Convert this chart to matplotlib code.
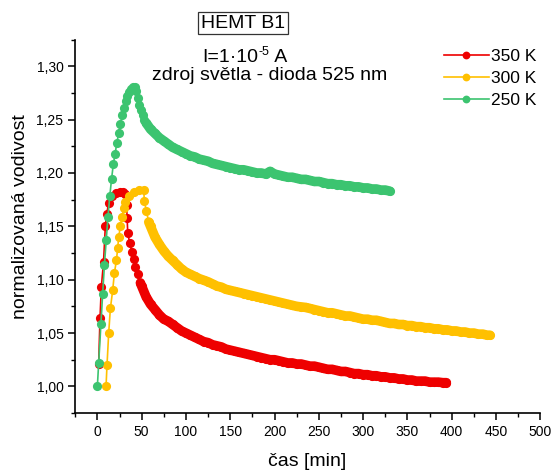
import matplotlib
matplotlib.use("Agg")
import matplotlib.pyplot as plt
import matplotlib.ticker as ticker

plt.rcParams['font.family'] = ['Liberation Sans', 'DejaVu Sans']

# 350 K
t_350_rise = [1.5, 3, 4.5, 7, 9, 10.5, 13, 17, 21, 25, 29, 31, 33, 33.6, 34.3, 36.5, 39, 41, 43,
              45.5, 48.6]
g_350_rise = [1.021, 1.064, 1.093, 1.117, 1.150, 1.162, 1.172, 1.178, 1.181, 1.182, 1.182, 1.180,
              1.170, 1.158, 1.144, 1.134, 1.126, 1.119, 1.112, 1.105, 1.097]
t_350_decay = list(range(50, 395, 5)) + [394]
g_350_decay = [1.094, 1.084, 1.077, 1.072, 1.067, 1.063, 1.061, 1.058, 1.055, 1.052, 1.050, 1.048,
               1.046, 1.044, 1.042, 1.041, 1.039, 1.038, 1.037, 1.035, 1.034, 1.033, 1.032, 1.031,
               1.030, 1.029, 1.028, 1.027, 1.026, 1.025, 1.025, 1.024, 1.023, 1.022, 1.022, 1.021,
               1.021, 1.020, 1.019, 1.019, 1.018, 1.017, 1.016, 1.016, 1.015, 1.014, 1.014, 1.013,
               1.012, 1.012, 1.011, 1.011, 1.010, 1.010, 1.009, 1.009, 1.008, 1.008, 1.007, 1.007,
               1.006, 1.006, 1.005, 1.005, 1.005, 1.004, 1.004, 1.004, 1.0035, 1.0035]

# 300 K
t_300_rise = [9.8, 10.9, 12.8, 14.7, 17.3, 19.2, 21.5, 23, 24.1, 26, 27.9, 29.8, 31.7, 35.4, 41,
              46.7, 52.4, 53, 55.4, 58]
g_300_rise = [1.000, 1.020, 1.050, 1.073, 1.090, 1.106, 1.118, 1.130, 1.140, 1.150, 1.159, 1.167,
              1.173, 1.178, 1.182, 1.184, 1.184, 1.174, 1.164, 1.154]
t_300_decay = list(range(60, 445, 5)) + [443]
g_300_decay = [1.150, 1.140, 1.133, 1.127, 1.122, 1.118, 1.114, 1.110, 1.107, 1.105, 1.103, 1.101,
               1.0995, 1.098, 1.096, 1.094, 1.093, 1.091, 1.090, 1.089, 1.088, 1.087, 1.086, 1.085,
               1.084, 1.083, 1.082, 1.081, 1.080, 1.079, 1.078, 1.077, 1.076, 1.075, 1.0745, 1.074,
               1.073, 1.072, 1.071, 1.070, 1.069, 1.069, 1.068, 1.067, 1.066, 1.066, 1.065, 1.064,
               1.063, 1.063, 1.062, 1.062, 1.061, 1.060, 1.059, 1.059, 1.058, 1.058, 1.057, 1.057,
               1.056, 1.056, 1.055, 1.055, 1.054, 1.054, 1.053, 1.053, 1.052, 1.052, 1.051, 1.051,
               1.050, 1.050, 1.049, 1.049, 1.048, 1.048]

# 250 K
t_250_rise = [0, 1.5, 4, 6, 8, 10, 12, 14, 16, 18, 20, 22, 24, 26, 28, 30, 32, 34, 36, 38, 40, 42,
              44, 45.5, 47, 49, 51, 53, 55]
g_250_rise = [1.000, 1.022, 1.058, 1.087, 1.114, 1.137, 1.159, 1.178, 1.194, 1.208, 1.218, 1.228,
              1.237, 1.246, 1.254, 1.261, 1.267, 1.272, 1.276, 1.279, 1.281, 1.281, 1.277, 1.270,
              1.264, 1.259, 1.254, 1.250, 1.247]
t_250_decay = list(range(60, 335, 5))
g_250_decay = [1.241, 1.237, 1.233, 1.230, 1.227, 1.224, 1.222, 1.220, 1.218, 1.216, 1.215, 1.213,
               1.212, 1.211, 1.209, 1.208, 1.207, 1.206, 1.205, 1.204, 1.203, 1.203, 1.202, 1.201,
               1.200, 1.200, 1.199, 1.2015, 1.199, 1.198, 1.197, 1.196, 1.196, 1.195, 1.194, 1.194,
               1.193, 1.192, 1.192, 1.191, 1.190, 1.190, 1.189, 1.189, 1.188, 1.188, 1.187, 1.187,
               1.186, 1.186, 1.185, 1.185, 1.184, 1.184, 1.183]

labels = ['350 K', '300 K', '250 K']
colors = ['#EE0000', '#FFC000', '#3CC470']

series = [(t_350_rise, g_350_rise, t_350_decay, g_350_decay),
          (t_300_rise, g_300_rise, t_300_decay, g_300_decay),
          (t_250_rise, g_250_rise, t_250_decay, g_250_decay)]

fig = plt.figure(figsize=(5.53, 4.71), dpi=100)
ax = fig.add_axes([0.136, 0.123, 0.841, 0.793])

ms = 6.6
for (tr, gr, td, gd), lab, c in zip(series, labels, colors):
    ax.plot(tr + td, gr + gd, '-o', color=c, lw=1.2, ms=ms, mew=0, label=lab)
    # dense part of the record: measured points overlap into a band
    ax.plot(tr[-1:] + td, gr[-1:] + gd, '-', color=c, lw=ms + 0.3, solid_capstyle='round',
            solid_joinstyle='round')

ax.set_xlim(-25, 500)
ax.set_ylim(0.975, 1.325)
ax.xaxis.set_major_locator(ticker.MultipleLocator(50))
ax.xaxis.set_minor_locator(ticker.MultipleLocator(25))
ax.yaxis.set_major_locator(ticker.MultipleLocator(0.05))
ax.yaxis.set_minor_locator(ticker.MultipleLocator(0.025))
ax.yaxis.set_major_formatter(ticker.FuncFormatter(lambda v, p: '{:.2f}'.format(v).replace('.', ',')))

for s in ['top', 'right']:
    ax.spines[s].set_visible(False)
for s in ['left', 'bottom']:
    ax.spines[s].set_linewidth(1.2)
ax.tick_params(which='major', direction='out', length=5, width=1.1, labelsize=10)
ax.tick_params(which='minor', direction='out', length=3, width=1.0)

ax.set_xlabel('čas [min]', fontsize=14, va='center')
ax.xaxis.set_label_coords(0.499, -0.131)
ax.set_ylabel('normalizovaná vodivost', fontsize=14, va='center')
ax.yaxis.set_label_coords(-0.118, 0.526)

fig.text(243 / 553, 1 - 23 / 471, 'HEMT B1', ha='center', va='center', fontsize=14,
         bbox=dict(boxstyle='square,pad=0.15', fc='white', ec='#333333', lw=0.9))
yb = 1 - 62 / 471
fig.text(258.5 / 553, yb, 'I=1·10', ha='right', va='baseline', fontsize=14)
fig.text(258.5 / 553, yb + 7 / 471, '-5', ha='left', va='baseline', fontsize=9)
fig.text(269.5 / 553, yb, ' A', ha='left', va='baseline', fontsize=14)
fig.text(270 / 553, 1 - 75 / 471, 'zdroj světla - dioda 525 nm', ha='center', va='center', fontsize=14)

ax.legend(loc='upper left', bbox_to_anchor=(435 / 553, 1 - 40 / 471), bbox_transform=fig.transFigure,
          frameon=False, fontsize=12.5, handlelength=2.6, labelspacing=0.41, handletextpad=0.15,
          borderpad=0, markerscale=0.85)

fig.savefig('out.png', dpi=100)
